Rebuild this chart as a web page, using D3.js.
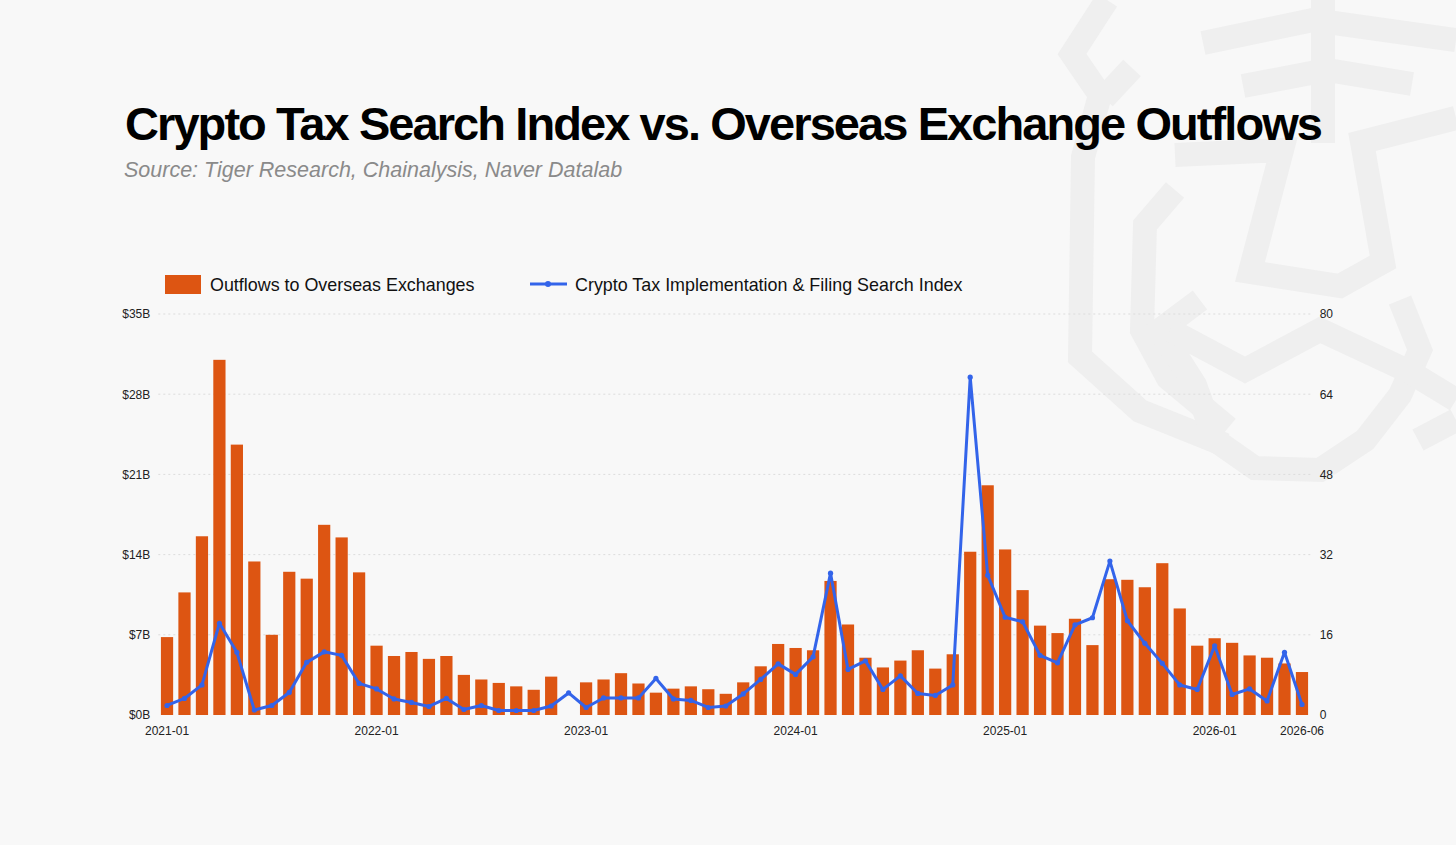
<html>
<head>
<script src="https://d3js.org/d3.v7.min.js"></script>
<style>
  body { margin: 0; background: #f8f8f8; }
  svg text { font-family: "Liberation Sans", Arial, Helvetica, sans-serif; }
</style>
</head>
<body>
<script>

// months 2021-01 .. 2026-06
var months = [
  "2021-01","2021-02","2021-03","2021-04","2021-05","2021-06","2021-07","2021-08","2021-09","2021-10","2021-11","2021-12",
  "2022-01","2022-02","2022-03","2022-04","2022-05","2022-06","2022-07","2022-08","2022-09","2022-10","2022-11","2022-12",
  "2023-01","2023-02","2023-03","2023-04","2023-05","2023-06","2023-07","2023-08","2023-09","2023-10","2023-11","2023-12",
  "2024-01","2024-02","2024-03","2024-04","2024-05","2024-06","2024-07","2024-08","2024-09","2024-10","2024-11","2024-12",
  "2025-01","2025-02","2025-03","2025-04","2025-05","2025-06","2025-07","2025-08","2025-09","2025-10","2025-11","2025-12",
  "2026-01","2026-02","2026-03","2026-04","2026-05","2026-06"
];

// outflows to overseas exchanges, $B
var outflows = [
  6.8, 10.7, 15.6, 31.0, 23.6, 13.4, 7.0, 12.5, 11.9, 16.6, 15.5, 12.45,
  6.05, 5.15, 5.5, 4.9, 5.15, 3.5, 3.1, 2.8, 2.5, 2.2, 3.35, null,
  2.85, 3.1, 3.65, 2.75, 1.95, 2.3, 2.5, 2.25, 1.85, 2.85, 4.25, 6.2,
  5.85, 5.65, 11.7, 7.9, 5.0, 4.15, 4.75, 5.65, 4.05, 5.3, 14.25, 20.05,
  14.45, 10.9, 7.8, 7.15, 8.4, 6.1, 11.85, 11.8, 11.15, 13.25, 9.3, 6.05,
  6.7, 6.3, 5.2, 5.0, 4.5, 3.75
];

// crypto tax implementation & filing search index
var searchIndex = [
  1.9, 3.3, 6.0, 18.3, 12.5, 1.0, 1.9, 4.5, 10.5, 12.6, 11.9, 6.3,
  5.2, 3.2, 2.5, 1.7, 3.3, 1.1, 1.9, 0.9, 0.9, 0.9, 1.8, 4.4,
  1.5, 3.4, 3.4, 3.4, 7.3, 3.2, 2.9, 1.5, 1.8, 4.2, 7.1, 10.2,
  8.1, 11.6, 28.3, 9.1, 10.8, 5.1, 7.8, 4.3, 3.9, 6.0, 67.4, 27.9,
  19.5, 18.6, 11.9, 10.4, 18.0, 19.4, 30.7, 18.8, 14.3, 10.3, 6.0, 5.1,
  13.8, 4.1, 5.2, 2.8, 12.5, 2.1
];

var xTickLabels = ["2021-01","2022-01","2023-01","2024-01","2025-01","2026-01","2026-06"];
var leftTicks = [0, 7, 14, 21, 28, 35];
var rightTicks = [0, 16, 32, 48, 64, 80];

var barColor = "#dd5512",
    lineColor = "#3364ea";

var W = 1456, H = 845;
var plot = {left: 158.3, right: 1310.7, top: 314, bottom: 715};

var svg = d3.select("body").append("svg")
            .attr("width", W)
            .attr("height", H);

svg.append("rect").attr("width", W).attr("height", H).attr("fill", "#f8f8f8");

// faint watermark logo, top right
var mark = svg.append("g")
              .attr("fill", "none")
              .attr("stroke", "#efefef")
              .attr("stroke-width", 24)
              .attr("stroke-linejoin", "miter");
var markPaths = [
  [[1107,0],[1072,54],[1100,95],[1083,157],[1080,357],[1140,411],[1225,445]],
  [[1132,68],[1104,98]],
  [[1175,190],[1145,225],[1142,330],[1168,378],[1228,428]],
  [[1203,43],[1313,20],[1456,40]],
  [[1243,86],[1327,70],[1412,84]],
  [[1323,0],[1323,143]],
  [[1175,155],[1282,150],[1250,272],[1340,286],[1383,262],[1362,142],[1456,118]],
  [[1200,300],[1160,330],[1195,385],[1215,440],[1255,468],[1320,470],[1365,440],[1400,395],[1420,350],[1400,300]],
  [[1170,330],[1245,370],[1320,330],[1410,372],[1456,400]],
  [[1418,440],[1456,420]]
];
markPaths.forEach(function(p) {
  mark.append("path").attr("d", d3.line()(p));
});

// title
var title = svg.append("text")
   .attr("x", 125)
   .attr("y", 140)
   .attr("font-size", 47)
   .attr("font-weight", "bold")
   .attr("fill", "#000")
   .text("Crypto Tax Search Index vs. Overseas Exchange Outflows");
var tl = title.node().getComputedTextLength();
var nch = title.text().length;
title.attr("letter-spacing", ((1323 - 125) - tl) / (nch - 1));

svg.append("text")
   .attr("x", 124)
   .attr("y", 177)
   .attr("font-size", 21.5)
   .attr("font-style", "italic")
   .attr("fill", "#8a8a8a")
   .text("Source: Tiger Research, Chainalysis, Naver Datalab");

// legend
svg.append("rect")
   .attr("x", 165).attr("y", 275)
   .attr("width", 36).attr("height", 19)
   .attr("fill", barColor);
svg.append("text")
   .attr("x", 210).attr("y", 291)
   .attr("font-size", 17.9)
   .attr("fill", "#111")
   .text("Outflows to Overseas Exchanges");
svg.append("line")
   .attr("x1", 530).attr("x2", 567)
   .attr("y1", 284).attr("y2", 284)
   .attr("stroke", lineColor).attr("stroke-width", 3);
svg.append("circle")
   .attr("cx", 548).attr("cy", 284).attr("r", 3)
   .attr("fill", lineColor);
svg.append("text")
   .attr("x", 575).attr("y", 291)
   .attr("font-size", 17.9)
   .attr("fill", "#111")
   .text("Crypto Tax Implementation & Filing Search Index");

// scales
var x = d3.scaleBand()
          .domain(months)
          .range([plot.left, plot.right])
          .paddingInner(0.3)
          .paddingOuter(0.15);
var yL = d3.scaleLinear()
           .domain([0, 35])
           .range([plot.bottom, plot.top]);
var yR = d3.scaleLinear()
           .domain([0, 80])
           .range([plot.bottom, plot.top]);

// gridlines
svg.append("g")
   .selectAll("line")
   .data(leftTicks.slice(1))
   .enter().append("line")
   .attr("x1", plot.left)
   .attr("x2", plot.right)
   .attr("y1", function(d) { return yL(d); })
   .attr("y2", function(d) { return yL(d); })
   .attr("stroke", "#dcdcdc")
   .attr("stroke-width", 1)
   .attr("stroke-dasharray", "2,3");

// axes
var leftAxis = svg.append("g")
   .attr("transform", "translate(" + plot.left + ",0)")
   .call(d3.axisLeft(yL).tickValues(leftTicks).tickSize(0).tickPadding(8)
           .tickFormat(function(d) { return "$" + d + "B"; }));
var rightAxis = svg.append("g")
   .attr("transform", "translate(" + (plot.right + 1) + ",0)")
   .call(d3.axisRight(yR).tickValues(rightTicks).tickSize(0).tickPadding(8));
var bottomAxis = svg.append("g")
   .attr("transform", "translate(0," + plot.bottom + ")")
   .call(d3.axisBottom(x).tickValues(xTickLabels).tickSize(0).tickPadding(11));

[leftAxis, rightAxis, bottomAxis].forEach(function(a) {
  a.select(".domain").remove();
  a.selectAll("text")
   .attr("font-family", "Liberation Sans, Arial, sans-serif")
   .attr("font-size", 12)
   .attr("fill", "#222");
});

// bars
var barData = months.map(function(m, i) { return {m: m, v: outflows[i]}; })
                    .filter(function(d) { return d.v != null; });
svg.append("g")
   .selectAll("rect")
   .data(barData)
   .enter().append("rect")
   .attr("x", function(d) { return x(d.m); })
   .attr("width", x.bandwidth())
   .attr("y", function(d) { return yL(d.v); })
   .attr("height", function(d) { return yL(0) - yL(d.v); })
   .attr("fill", barColor);

// line
var lineData = months.map(function(m, i) { return {m: m, v: searchIndex[i]}; });
var line = d3.line()
             .x(function(d) { return x(d.m) + x.bandwidth() / 2; })
             .y(function(d) { return yR(d.v); });
svg.append("path")
   .datum(lineData)
   .attr("d", line)
   .attr("fill", "none")
   .attr("stroke", lineColor)
   .attr("stroke-width", 3)
   .attr("stroke-linejoin", "round");
svg.append("g")
   .selectAll("circle")
   .data(lineData)
   .enter().append("circle")
   .attr("cx", function(d) { return x(d.m) + x.bandwidth() / 2; })
   .attr("cy", function(d) { return yR(d.v); })
   .attr("r", 2.6)
   .attr("fill", lineColor);

</script>
</body>
</html>
